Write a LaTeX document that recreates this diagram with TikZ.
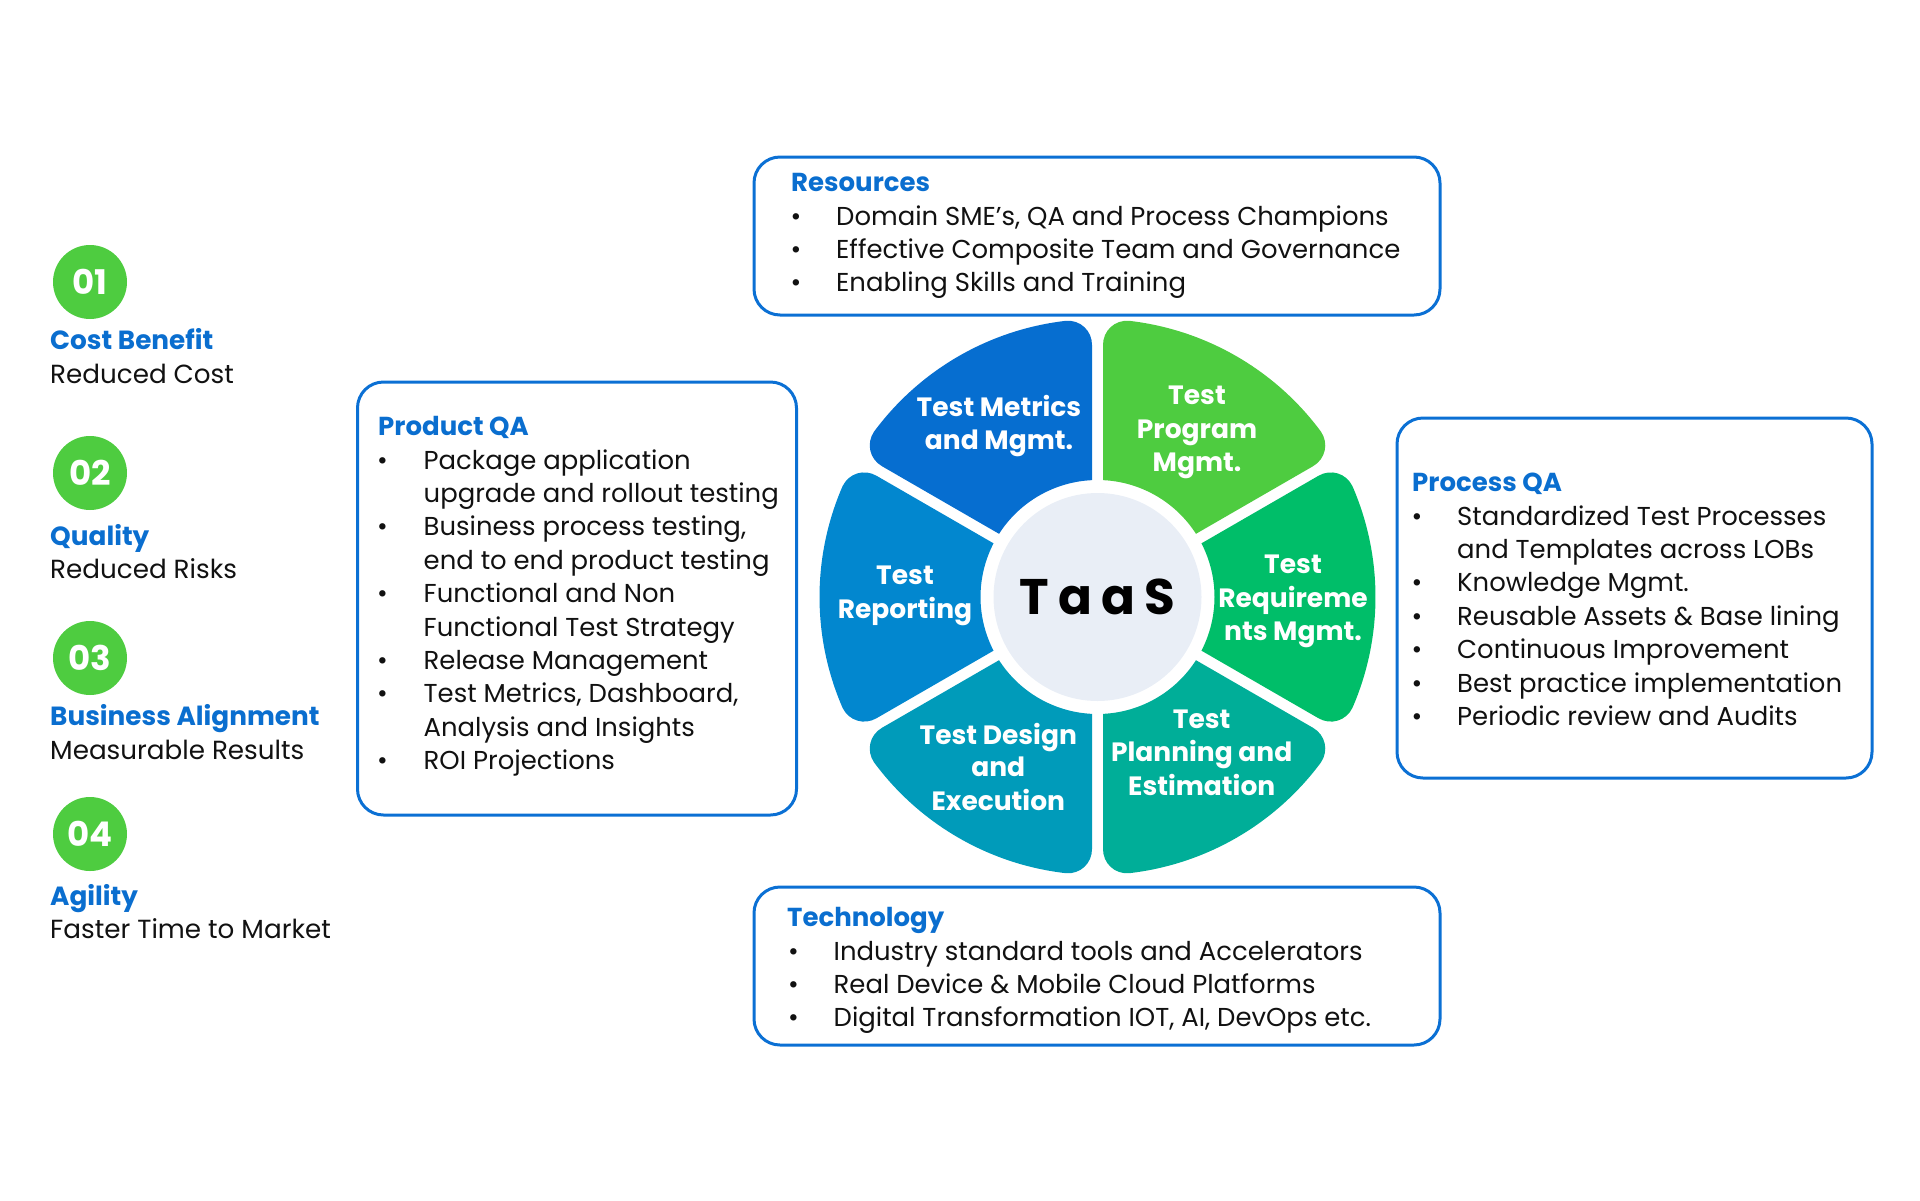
\documentclass[tikz,border=0pt]{standalone}
\usepackage{fontspec}
\setmainfont{Poppins}
\usetikzlibrary{calc}

\definecolor{hdblue}{HTML}{0A6ECF}
\definecolor{boxblue}{HTML}{0B70D4}
\definecolor{numgreen}{HTML}{4ECC40}
\definecolor{pmetrics}{HTML}{066ED0}
\definecolor{pprogram}{HTML}{4ECC40}
\definecolor{prequire}{HTML}{00BE69}
\definecolor{pplanning}{HTML}{00AE98}
\definecolor{pdesign}{HTML}{009BBA}
\definecolor{preporting}{HTML}{0287CF}
\definecolor{hubfill}{HTML}{E9EEF6}
\definecolor{inktext}{HTML}{111111}

% flower geometry (pt)
\def\petRo{278}
\def\petRi{117}
\def\petG{5.5}
\def\petRc{26}

% one rounded petal between gap angle #2 and #2+60
\newcommand{\flowerpetal}[3]{%
  \pgfmathsetmacro{\petA}{#2}%
  \pgfmathsetmacro{\petB}{#2+60}%
  \pgfmathsetmacro{\petAo}{\petA+\petDb}%
  \pgfmathsetmacro{\petBo}{\petB-\petDb}%
  \pgfmathsetmacro{\petAi}{\petA+\petDi}%
  \pgfmathsetmacro{\petBi}{\petB-\petDi}%
  \pgfmathsetmacro{\petAn}{\petA+90}%
  \pgfmathsetmacro{\petBn}{\petB-90}%
  \coordinate (#1-c1) at ($(\petA:\petRo)+(\petAn:\petG)$);
  \coordinate (#1-a1) at ($(\petA:\petRr)+(\petAn:\petG)$);
  \coordinate (#1-b1) at (\petAo:\petRo);
  \coordinate (#1-c2) at ($(\petB:\petRo)+(\petBn:\petG)$);
  \coordinate (#1-a2) at ($(\petB:\petRr)+(\petBn:\petG)$);
  \coordinate (#1-b2) at (\petBo:\petRo);
  \coordinate (#1-i1) at (\petAi:\petRi);
  \coordinate (#1-i2) at (\petBi:\petRi);
  \fill[#3] (#1-i1) -- (#1-a1)
    .. controls ($(#1-a1)!0.552!(#1-c1)$) and ($(#1-b1)!0.552!(#1-c1)$) .. (#1-b1)
    arc[start angle=\petAo, end angle=\petBo, radius=\petRo]
    .. controls ($(#1-b2)!0.552!(#1-c2)$) and ($(#1-a2)!0.552!(#1-c2)$) .. (#1-a2)
    -- (#1-i2)
    arc[start angle=\petBi, end angle=\petAi, radius=\petRi] -- cycle;
}

\tikzset{
  panel/.style={draw=boxblue, line width=3pt, rounded corners=26pt},
  head/.style={anchor=base west, inner sep=0pt, text=hdblue,
    font=\fontsize{26}{33}\selectfont\bfseries},
  item/.style={anchor=base west, inner sep=0pt, text=inktext,
    font=\fontsize{25.9}{33}\selectfont},
  dot/.style={anchor=base, inner sep=0pt, text=inktext,
    font=\fontsize{26}{33}\selectfont},
  petaltext/.style={anchor=base, inner sep=0pt, text=white,
    font=\fontsize{26.5}{33}\selectfont\bfseries},
  numdisc/.style={circle, fill=numgreen, minimum size=74pt, inner sep=0pt,
    text=white, font=\fontsize{34}{34}\selectfont\bfseries},
  benefit/.style={anchor=base west, inner sep=0pt, text=hdblue,
    font=\fontsize{26.3}{33}\selectfont\bfseries},
  benefitsub/.style={anchor=base west, inner sep=0pt, text=inktext,
    font=\fontsize{26.2}{33}\selectfont},
}

\begin{document}
\begin{tikzpicture}[x=1pt, y=-1pt]
\useasboundingbox (0,0) rectangle (1920,1200);

% ---------- benefits column ----------
\node[numdisc] (n1) at (90,282) {01};
\node[benefit] (b1h) at (50,349) {Cost Benefit};
\node[benefitsub] (b1s) at (50,383) {Reduced Cost};

\node[numdisc] (n2) at (90,473) {02};
\node[benefit] (b2h) at (50,545) {Quality};
\node[benefitsub] (b2s) at (50,578.5) {Reduced Risks};

\node[numdisc] (n3) at (90,658) {03};
\node[benefit] (b3h) at (50,725) {Business Alignment};
\node[benefitsub] (b3s) at (50,759) {Measurable Results};

\node[numdisc] (n4) at (90,834) {04};
\node[benefit] (b4h) at (50,905) {Agility};
\node[benefitsub] (b4s) at (50,938.5) {Faster Time to Market};

% ---------- panels ----------
\draw[panel] (754,157) rectangle (1440,315);
\draw[panel] (357.5,382) rectangle (796.5,815);
\draw[panel] (1397,418) rectangle (1872,778);
\draw[panel] (754,887) rectangle (1440,1045);

% Resources
\node[head] (rh) at (791,191.7) {Resources};
\foreach \t [count=\i] in {Domain SME’s{,} QA and Process Champions,
    Effective Composite Team and Governance, Enabling Skills and Training}{
  \pgfmathsetmacro{\yy}{191.7+33.3*\i}
  \node[dot] (rd\i) at (796,\yy) {•};
  \node[item] (ri\i) at (836,\yy) {\t};
}

% Product QA
\node[head] (ph) at (378,435.7) {Product QA};
\foreach \t/\b [count=\i] in {Package application/1, upgrade and rollout testing/0,
    Business process testing{,}/1, end to end product testing/0,
    Functional and Non/1, Functional Test Strategy/0, Release Management/1,
    Test Metrics{,} Dashboard{,}/1, Analysis and Insights/0, ROI Projections/1}{
  \pgfmathsetmacro{\yy}{435.7+33.4*\i}
  \ifnum\b=1 \node[dot] (pd\i) at (382.5,\yy) {•};\fi
  \node[item] (pi\i) at (423.5,\yy) {\t};
}

% Process QA
\node[head] (qh) at (1412,491.7) {Process QA};
\foreach \t/\b [count=\i] in {Standardized Test Processes/1,
    and Templates across LOBs/0, Knowledge Mgmt./1,
    Reusable Assets \& Base lining/1, Continuous Improvement/1,
    Best practice implementation/1, Periodic review and Audits/1}{
  \pgfmathsetmacro{\yy}{491.7+33.4*\i}
  \ifnum\b=1 \node[dot] (qd\i) at (1417,\yy) {•};\fi
  \node[item] (qi\i) at (1457,\yy) {\t};
}

% Technology
\node[head] (th) at (787,926.7) {Technology};
\foreach \t [count=\i] in {Industry standard tools and Accelerators,
    Real Device \& Mobile Cloud Platforms,
    Digital Transformation IOT{,} AI{,} DevOps etc.}{
  \pgfmathsetmacro{\yy}{926.7+33.4*\i}
  \node[dot] (td\i) at (793.5,\yy) {•};
  \node[item] (ti\i) at (833.5,\yy) {\t};
}

% ---------- TaaS flower ----------
\begin{scope}[shift={(1097.5,597)}, y=1pt]
  \pgfmathsetmacro{\petRr}{\petRo-\petRc}
  \pgfmathsetmacro{\petDb}{asin(\petG/\petRo)+\petRc/\petRo*180/pi}
  \pgfmathsetmacro{\petDi}{asin(\petG/\petRi)}
  \flowerpetal{fmet}{90}{pmetrics}
  \flowerpetal{frep}{150}{preporting}
  \flowerpetal{fdes}{210}{pdesign}
  \flowerpetal{fpla}{270}{pplanning}
  \flowerpetal{freq}{-30}{prequire}
  \flowerpetal{fpro}{30}{pprogram}
  \fill[hubfill] (0,0) circle[radius=104];
\end{scope}

\node[anchor=base, inner sep=0pt, text=black,
  font=\fontsize{50}{50}\selectfont\bfseries] (taas) at (1097.5,614.5)
  {T\hspace{9pt}a\hspace{9pt}a\hspace{9pt}S};

% petal labels
\node[petaltext] (lm1) at (999,416.7) {Test Metrics};
\node[petaltext] (lm2) at (999,449.3) {and Mgmt.};
\node[petaltext] (lp1) at (1197,404.3) {Test};
\node[petaltext] (lp2) at (1197,438.3) {Program};
\node[petaltext] (lp3) at (1197,471.7) {Mgmt.};
\node[petaltext] (lr1) at (1293,573.3) {Test};
\node[petaltext] (lr2) at (1293,607.3) {Requireme};
\node[petaltext] (lr3) at (1293,640) {nts Mgmt.};
\node[petaltext] (ll1) at (1201.7,728.3) {Test};
\node[petaltext] (ll2) at (1201.7,761.7) {Planning and};
\node[petaltext] (ll3) at (1201.7,795) {Estimation};
\node[petaltext] (ld1) at (998.3,744) {Test Design};
\node[petaltext] (ld2) at (998.3,776.7) {and};
\node[petaltext] (ld3) at (998.3,810.7) {Execution};
\node[petaltext] (le1) at (905,584.8) {Test};
\node[petaltext] (le2) at (905,618.3) {Reporting};

\end{tikzpicture}
\end{document}
